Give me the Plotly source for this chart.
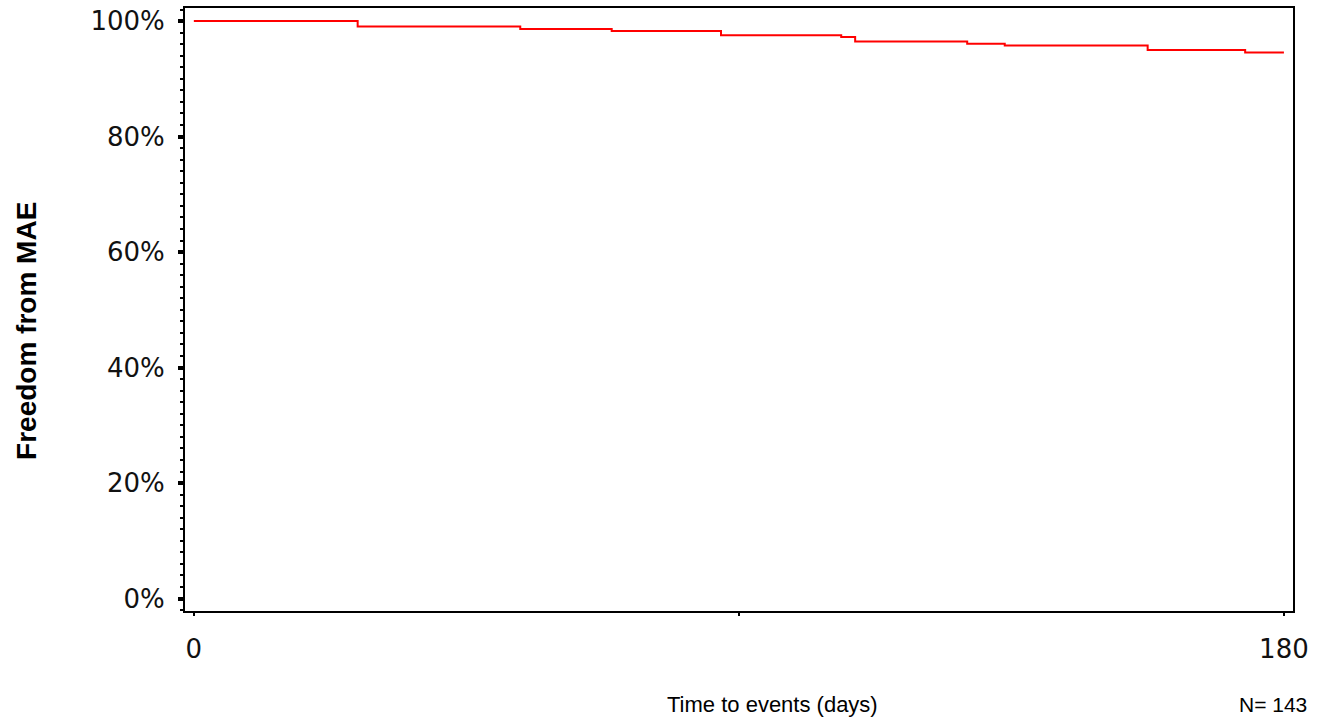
import plotly.graph_objects as go

# Kaplan-Meier estimate: freedom from MAE over 180 days (N = 143)
days = [0, 27.05, 53.9, 69.0, 87.05, 106.9, 109.2, 127.7, 133.9, 157.5, 173.6, 180]
freedom_pct = [100, 99.05, 98.64, 98.29, 97.55, 97.26, 96.47, 96.05, 95.78, 94.97, 94.57, 94.57]

y_ticks = [0, 20, 40, 60, 80, 100]
y_tick_text = ["0%", "20%", "40%", "60%", "80%", "100%"]
x_ticks = [0, 90, 180]
x_tick_text = ["0", "", "180"]
n_patients = 143

fig = go.Figure()
fig.add_trace(go.Scatter(
    x=days, y=freedom_pct, mode="lines", line_shape="hv",
    line=dict(color="#ff0000", width=2), showlegend=False, hoverinfo="skip",
))

tick_font = dict(family="DejaVu Sans", size=26, color="#111111")

fig.update_layout(
    width=1317, height=717,
    margin=dict(l=185, r=24, t=6, b=106),
    paper_bgcolor="white", plot_bgcolor="white",
    xaxis=dict(
        range=[-1.46, 181.5], tickvals=x_ticks, ticktext=x_tick_text,
        ticks="outside", ticklen=3, tickwidth=2, tickcolor="black",
        showline=True, linecolor="black", linewidth=2, mirror=True,
        showgrid=False, zeroline=False, tickfont=tick_font,
        ticklabelstandoff=11,
    ),
    yaxis=dict(
        range=[-2.15, 102.26], tickvals=y_ticks, ticktext=y_tick_text,
        ticks="outside", ticklen=5, tickwidth=4, tickcolor="black",
        minor=dict(dtick=2, ticks="outside", ticklen=3, tickwidth=2, tickcolor="black"),
        showline=True, linecolor="black", linewidth=2, mirror=True,
        showgrid=False, zeroline=False, tickfont=tick_font,
        ticklabelstandoff=8,
    ),
    annotations=[
        dict(text="<b>Freedom from MAE</b>", xref="paper", yref="paper",
             x=-0.1426, y=0.4645, xanchor="center", yanchor="middle",
             textangle=-90, showarrow=False,
             font=dict(family="Liberation Sans", size=28, color="black")),
        dict(text="Time to events (days)", xref="paper", yref="paper",
             x=0.5298, y=-0.155, xanchor="center", yanchor="middle",
             showarrow=False,
             font=dict(family="Liberation Sans", size=22, color="black")),
        dict(text=f"N= {n_patients}", xref="paper", yref="paper",
             x=1.0144, y=-0.155, xanchor="right", yanchor="middle",
             showarrow=False,
             font=dict(family="Liberation Sans", size=21, color="black")),
    ],
)

fig.write_html("out.html")
